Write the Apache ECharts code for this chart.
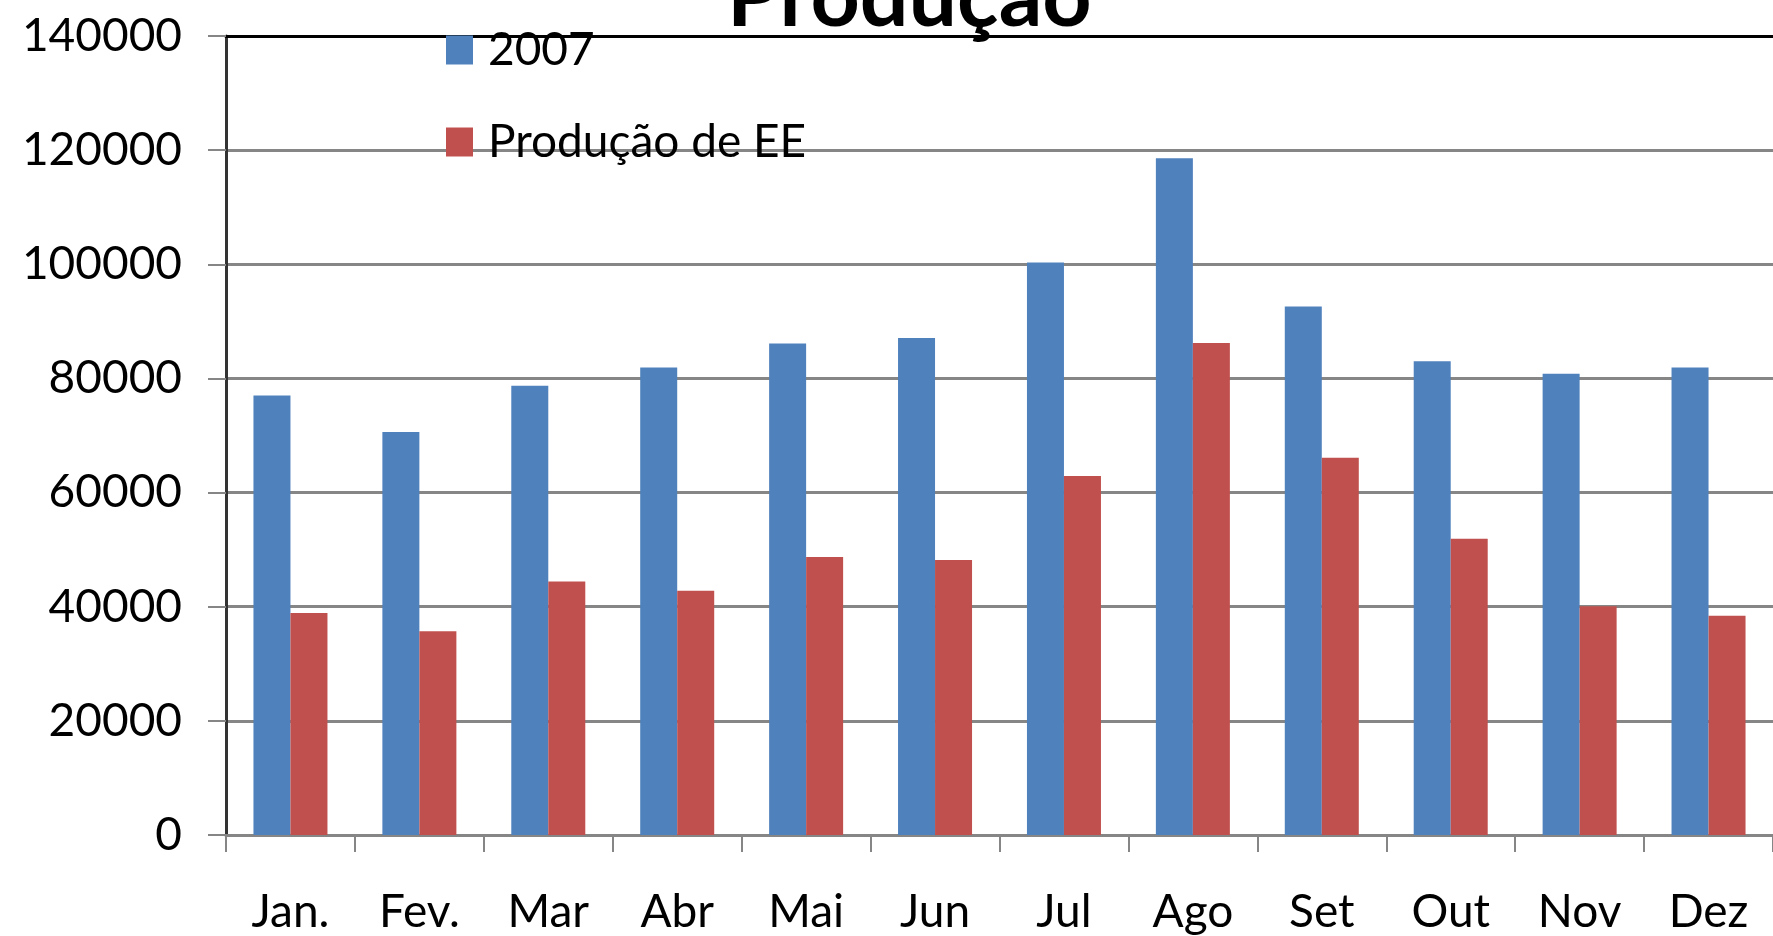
<!DOCTYPE html>
<html>
<head>
<meta charset="utf-8">
<title>Produção</title>
<script src="https://cdn.jsdelivr.net/npm/echarts@6/dist/echarts.min.js"></script>
<style>
  html, body { margin: 0; padding: 0; background: #fff; }
  #chart { width: 1773px; height: 936px; }
</style>
</head>
<body>
<div id="chart"></div>
<script>
var meses = ['Jan.', 'Fev.', 'Mar', 'Abr', 'Mai', 'Jun', 'Jul', 'Ago', 'Set', 'Out', 'Nov', 'Dez'];
var serie2007 = [77000, 70600, 78700, 81900, 86100, 87100, 100300, 118600, 92600, 83000, 80800, 81900];
var producaoEE = [38900, 35700, 44400, 42800, 48700, 48200, 62900, 86200, 66100, 51900, 40100, 38400];
var yMin = 0, yMax = 140000, yPasso = 20000;

var myChart = echarts.init(document.getElementById('chart'));

var fonte = 'Lato';

var option = {
    animation: false,
    title: {
        text: 'Produção',
        left: 722,
        top: -50,
        textStyle: {
            fontFamily: fonte,
            fontSize: 86,
            fontWeight: 'bold',
            color: '#000'
        }
    },
    legend: {
        orient: 'vertical',
        left: 441,
        top: 22,
        itemWidth: 27,
        itemHeight: 29,
        itemGap: 46,
        icon: 'rect',
        textStyle: {
            fontFamily: fonte,
            fontSize: 46,
            color: '#000',
            padding: [0, 0, 0, 10]
        },
        data: ['2007', 'Produção de EE']
    },
    grid: {
        left: 226,
        top: 36,
        width: 1566,
        bottom: 101,
        containLabel: false
    },
    xAxis: [
        {
            type: 'category',
            data: meses,
            axisLine: { lineStyle: { color: '#868686', width: 3 } },
            axisTick: { show: true, length: 17, lineStyle: { color: '#868686', width: 2 } },
            axisLabel: {
                margin: 54,
                fontFamily: fonte,
                fontSize: 46,
                color: '#000'
            }
        },
        {
            type: 'category',
            position: 'top',
            data: meses,
            axisLine: { lineStyle: { color: '#000', width: 3 } },
            axisTick: { show: false },
            axisLabel: { show: false }
        }
    ],
    yAxis: {
        type: 'value',
        min: yMin,
        max: yMax,
        interval: yPasso,
        axisLine: { show: true, lineStyle: { color: '#333', width: 3 } },
        axisTick: { show: true, length: 18, lineStyle: { color: '#868686', width: 2 } },
        splitLine: { lineStyle: { color: '#868686', width: 3 } },
        axisLabel: {
            margin: 44,
            fontFamily: fonte,
            fontSize: 46,
            color: '#000',
            formatter: function (v) { return String(v); }
        }
    },
    series: [
        {
            name: '2007',
            type: 'bar',
            barWidth: 37,
            barGap: '0%',
            itemStyle: { color: '#4F81BD' },
            data: serie2007
        },
        {
            name: 'Produção de EE',
            type: 'bar',
            barWidth: 37,
            barGap: '0%',
            itemStyle: { color: '#C0504D' },
            data: producaoEE
        }
    ]
};
myChart.setOption(option);

window.onresize = function () {
    myChart.resize();
}
</script>
</body>
</html>
